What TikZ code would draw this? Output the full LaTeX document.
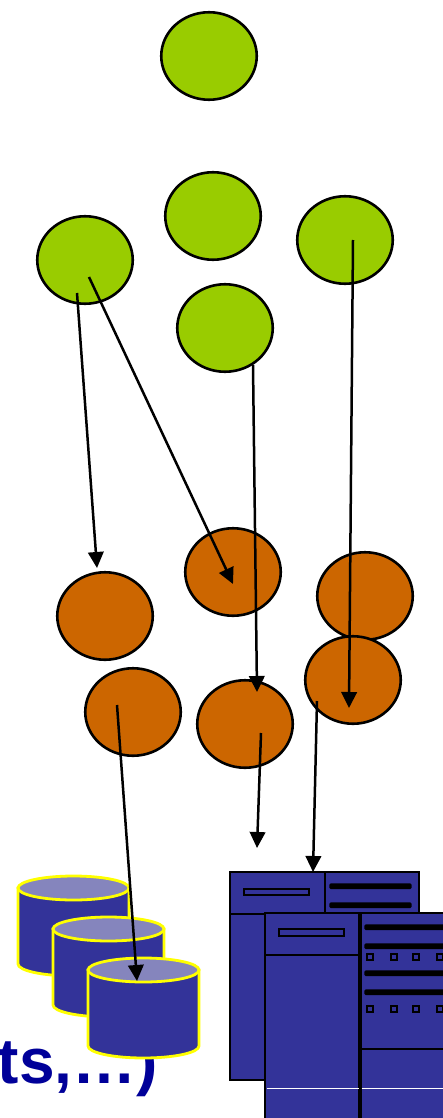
\documentclass[tikz,border=0pt]{standalone}
\usepackage{fontspec}
\setmainfont{Liberation Sans}
\usetikzlibrary{arrows.meta,shapes.geometric}
\definecolor{leaf}{HTML}{99CC00}
\definecolor{rust}{HTML}{CC6600}
\definecolor{navy}{HTML}{333399}
\definecolor{disktop}{HTML}{8585BD}
\definecolor{titleblue}{HTML}{000099}
\definecolor{rim}{HTML}{FFFF00}
\tikzset{
  px/.style={x=1pt,y=-1pt},
  blob/.style={draw=black,line width=2.6pt,ellipse,minimum width=95.5pt,minimum height=87.5pt,inner sep=0pt},
  link/.style={draw=black,line width=2.5pt,-{Triangle[length=16pt,width=15.5pt]}},
  srv/.style={draw=black,line width=2.6pt,fill=navy},
  srvline/.style={draw=black,line width=2.6pt},
  bar/.style={draw=black,line width=3.4pt,fill=black,rounded corners=0.5pt},
  slot/.style={draw=black,line width=2.4pt,fill=navy},
  disk/.style={draw=rim,line width=2.8pt,fill=navy},
  disklid/.style={draw=rim,line width=2.8pt,fill=disktop},
}
\newcommand{\diskat}[2]{% left x, top centre y
  \path[disk] (#1,#2) -- (#1,#2+76) arc[start angle=180,end angle=360,x radius=55.5,y radius=-12] -- (#1+111,#2) -- cycle;
  \path[disklid] (#1+55.5,#2) ellipse[x radius=55.5,y radius=12];
}
\begin{document}
\begin{tikzpicture}[px]
\useasboundingbox (0,0) rectangle (443,1118);
\clip (0,0) rectangle (443,1118);
% caption fragment
\node[anchor=base east,inner sep=0pt,font=\fontsize{64}{64}\selectfont\bfseries,text=titleblue] (caption) at (158,1083) {ts,…)};
% green nodes
\foreach \n/\x/\y in {g1/209/56,g2/213/216,g3/345/240,g4/85/260,g5/225/328}
  \node[blob,fill=leaf] (\n) at (\x,\y) {};
% orange nodes
\foreach \n/\x/\y in {o1/233/572,o2/365/596,o3/105/616,o4/353/680,o5/133/712,o6/245/724}
  \node[blob,fill=rust] (\n) at (\x,\y) {};
% disks
\diskat{18}{888}
\diskat{53}{929}
\diskat{88}{970}
% rear server
\path[srv] (230,872) rectangle (419,1080);
\draw[srvline] (230,914) -- (325,914);
\draw[srvline] (325,872) -- (325,914);
\path[srv,line width=2.2pt] (244,889) rectangle (309,895);
\path[bar] (331,885) rectangle (410,887.5);
\path[bar] (331,904) rectangle (410,906.5);
\foreach \x in {335,360,382,407}
  \path[slot] (\x-3,914) rectangle (\x+3,920);
% front server
\path[srv] (265,913) rectangle (460,1130);
\draw[srvline] (265,955) -- (360,955);
\draw[draw=black,line width=3.2pt] (360,913) -- (360,1130);
\draw[srvline,line width=2pt] (360,1049) -- (460,1049);
\draw[white,line width=1pt] (266.5,1088) -- (358.5,1088);
\draw[white,line width=1pt] (361.5,1088) -- (443,1088);
\path[srv,line width=2.2pt] (279,929) rectangle (344,936);
\foreach \y in {926,945,972,991}
  \path[bar] (366,\y) rectangle (460,\y+2.5);
\foreach \y in {957,1009}
  \foreach \x in {370,394,416,440}
    \path[slot] (\x-3,\y-3) rectangle (\x+3,\y+3);
% connector ends
\coordinate (a1) at (77,293);   \coordinate (b1) at (97,568);
\coordinate (a2) at (89,277);   \coordinate (b2) at (233,584);
\coordinate (a3) at (253,365);  \coordinate (b3) at (257,692);
\coordinate (a4) at (353,240);  \coordinate (b4) at (349,708);
\coordinate (a5) at (117,705);  \coordinate (b5) at (137,981);
\coordinate (a6) at (261,733);  \coordinate (b6) at (257,848);
\coordinate (a7) at (317,701);  \coordinate (b7) at (313,872);
\foreach \i in {1,...,7}
  \draw[link] (a\i) -- (b\i);
\end{tikzpicture}
\end{document}
